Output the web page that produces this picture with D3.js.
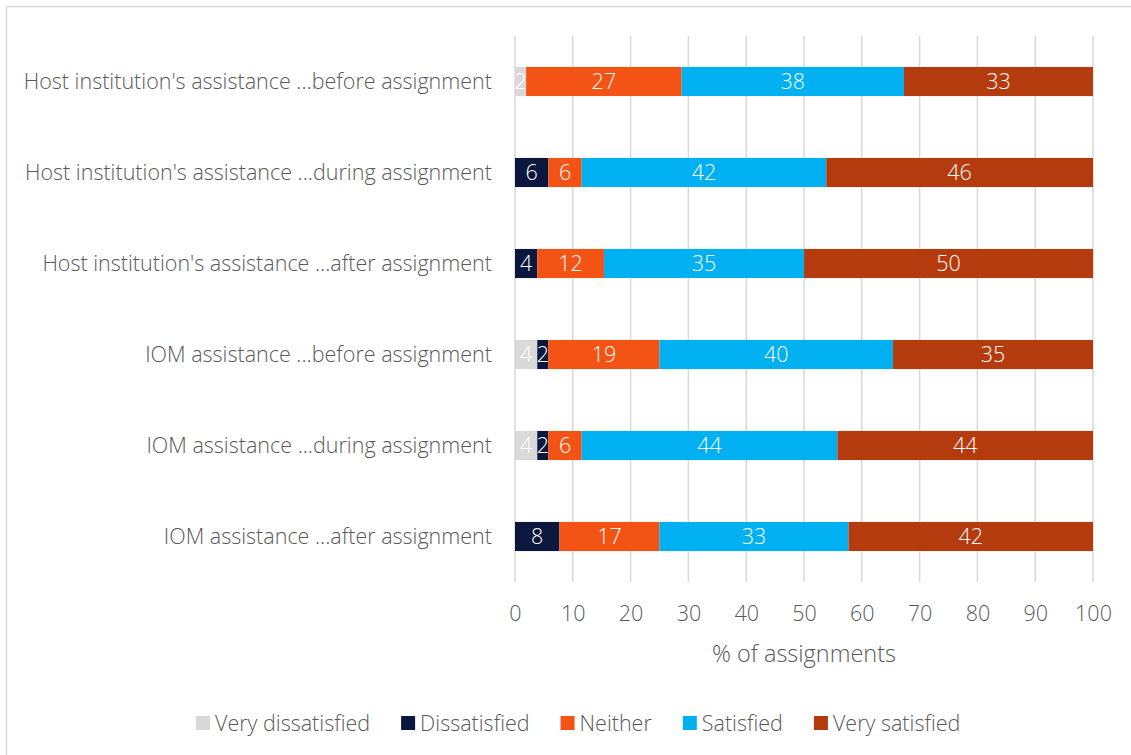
<!DOCTYPE html>
<html>
<head>
<meta charset="utf-8">
<script src="https://cdn.jsdelivr.net/npm/d3@7"></script>
<style>
  body { margin: 0; background: #fff; }
  text { font-family: "Open Sans", "Segoe UI", sans-serif; font-weight: 300; }
</style>
</head>
<body>
<svg></svg>
<script>
var width = 1131;
var height = 755;

// rows, top to bottom
var categories = [
    "Host institution's assistance ...before assignment",
    "Host institution's assistance ...during assignment",
    "Host institution's assistance ...after assignment",
    "IOM assistance ...before assignment",
    "IOM assistance ...during assignment",
    "IOM assistance ...after assignment"
];

var seriesNames = ["Very dissatisfied", "Dissatisfied", "Neither", "Satisfied", "Very satisfied"];
var seriesColors = ["#d9d9d9", "#0b173d", "#f35315", "#00b0f0", "#b43b0e"];

// % of assignments per series, same order as categories
var veryDissatisfied = [1.92, 0, 0, 3.85, 3.85, 0];
var dissatisfied     = [0, 5.77, 3.85, 1.92, 1.92, 7.69];
var neither          = [26.92, 5.77, 11.54, 19.23, 5.77, 17.31];
var satisfied        = [38.46, 42.31, 34.62, 40.38, 44.23, 32.69];
var verySatisfied    = [32.69, 46.15, 50.0, 34.62, 44.23, 42.31];

var xTicks = [0, 10, 20, 30, 40, 50, 60, 70, 80, 90, 100];

var margin = {top: 36, left: 515, right: 38, bottom: 173};
var fs = "21.5px";

var svg = d3.select("svg")
    .attr("width", width)
    .attr("height", height);

// outer frame
svg.append("rect")
    .attr("x", 6.5).attr("y", 6.5)
    .attr("width", width + 20).attr("height", height + 20)
    .attr("fill", "none")
    .attr("stroke", "#d9d9d9")
    .attr("stroke-width", 1.5);

var x = d3.scaleLinear()
    .domain([0, 100])
    .range([margin.left, width - margin.right]);

var y = d3.scaleBand()
    .domain(categories)
    .range([margin.top, height - margin.bottom])
    .paddingInner(0.68)
    .paddingOuter(0.34);

var color = d3.scaleOrdinal().domain(seriesNames).range(seriesColors);

// build table for stack
var table = categories.map(function(c, i) {
    return {
        cat: c,
        "Very dissatisfied": veryDissatisfied[i],
        "Dissatisfied": dissatisfied[i],
        "Neither": neither[i],
        "Satisfied": satisfied[i],
        "Very satisfied": verySatisfied[i]
    };
});
var stacked = d3.stack().keys(seriesNames)(table);

// gridlines
svg.append("g")
    .selectAll("line")
    .data(xTicks)
    .enter().append("line")
    .attr("x1", function(d) { return x(d); })
    .attr("x2", function(d) { return x(d); })
    .attr("y1", margin.top)
    .attr("y2", height - margin.bottom)
    .attr("stroke", "#d9d9d9")
    .attr("stroke-width", 1.5);

// bars
var layers = svg.append("g").selectAll("g")
    .data(stacked)
    .enter().append("g")
    .attr("fill", function(d) { return color(d.key); });

layers.selectAll("rect")
    .data(function(d) { return d; })
    .enter().append("rect")
    .attr("x", function(d) { return x(d[0]); })
    .attr("y", function(d) { return y(d.data.cat); })
    .attr("width", function(d) { return x(d[1]) - x(d[0]); })
    .attr("height", y.bandwidth());

// value labels
layers.selectAll("text")
    .data(function(d) { return d.filter(function(v) { return v[1] - v[0] > 0; }); })
    .enter().append("text")
    .attr("x", function(d) { return (x(d[0]) + x(d[1])) / 2; })
    .attr("y", function(d) { return y(d.data.cat) + y.bandwidth() / 2; })
    .attr("dy", "0.35em")
    .attr("text-anchor", "middle")
    .attr("fill", "white")
    .style("font-size", fs)
    .text(function(d) { return Math.round(d[1] - d[0]); });

// category labels
svg.append("g")
    .selectAll("text")
    .data(categories)
    .enter().append("text")
    .attr("x", margin.left - 23)
    .attr("y", function(d) { return y(d) + y.bandwidth() / 2; })
    .attr("dy", "0.35em")
    .attr("text-anchor", "end")
    .attr("fill", "#595959")
    .style("font-size", fs)
    .text(function(d) { return d; });

// x axis
var xAxis = svg.append("g")
    .attr("transform", "translate(0," + (height - margin.bottom) + ")")
    .call(d3.axisBottom(x).tickValues(xTicks).tickSize(0).tickPadding(24));
xAxis.select(".domain").remove();
xAxis.selectAll("text")
    .attr("fill", "#595959")
    .style("font-size", fs)
    .style("font-family", "'Open Sans', sans-serif")
    .style("font-weight", 300);

svg.append("text")
    .attr("x", x(50))
    .attr("y", 654)
    .attr("dy", "0.35em")
    .attr("text-anchor", "middle")
    .attr("fill", "#595959")
    .style("font-size", "23.5px")
    .text("% of assignments");

// legend
var legend = svg.append("g").attr("transform", "translate(0,723)");
var lx = 196;
seriesNames.forEach(function(name) {
    var item = legend.append("g").attr("transform", "translate(" + lx + ",0)");
    item.append("rect")
        .attr("x", 0).attr("y", -7)
        .attr("width", 14).attr("height", 14)
        .attr("fill", color(name));
    var t = item.append("text")
        .attr("x", 19)
        .attr("dy", "0.35em")
        .attr("fill", "#595959")
        .style("font-size", fs)
        .text(name);
    lx += 19 + t.node().getComputedTextLength() + 31;
});
</script>
</body>
</html>
